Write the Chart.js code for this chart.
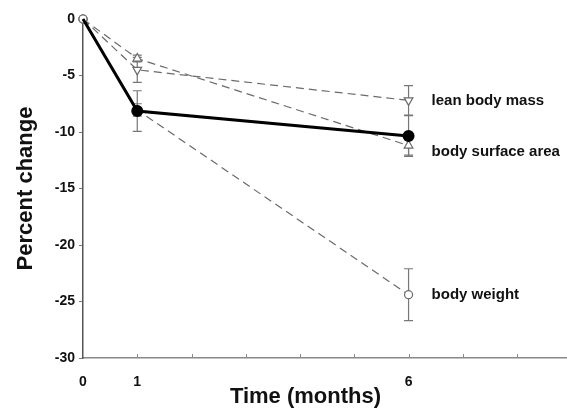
<!DOCTYPE html>
<html>
<head>
<meta charset="utf-8">
<script src="https://cdn.jsdelivr.net/npm/chart.js@4/dist/chart.umd.min.js"></script>
<style>
  html, body { margin: 0; padding: 0; background: #fff; overflow: hidden; }
  #wrap { width: 567px; height: 410px; }
</style>
</head>
<body>
<div id="wrap"><canvas id="chart" width="567" height="410"></canvas></div>
<script>
// months of follow-up
const months = [0, 1, 6];
const xTickLabels = [0, 1, 6];

// mean percent change and error (+/-) per series
const bodyWeight = [0, -8.05, -24.4];
const bodyWeightErr = [0, 0.55, 2.3];
const leanBodyMass = [0, -4.5, -7.2];
const leanBodyMassErr = [0, 1.1, 1.3];
const bodySurfaceArea = [0, -3.5, -11.2];
const bodySurfaceAreaErr = [0, 0.3, 0.85];
const combined = [0, -8.15, -10.35];
const combinedErr = [0, 1.8, 1.8];

const seriesLabels = ["lean body mass", "body surface area", "body weight"];
const xTitle = "Time (months)";

const font = "'Liberation Sans', Arial, sans-serif";
const gray = "#6a6a6a";

const toPoints = (vals) => months.map((m, i) => ({ x: m, y: vals[i] }));

const dashed = {
  borderColor: gray,
  borderWidth: 1.2,
  borderDash: [8, 5],
  pointBorderColor: gray,
  pointBackgroundColor: "#fff",
  pointBorderWidth: 1.2,
  pointRadius: 4,
  tension: 0,
  clip: false,
};

// error bars, drawn under the points
const errorBars = {
  id: "errorBars",
  beforeDatasetsDraw(chart) {
    const { ctx, scales } = chart;
    ctx.save();
    ctx.strokeStyle = "#777";
    ctx.lineWidth = 1.2;
    chart.data.datasets.forEach((ds) => {
      if (!ds.err) return;
      ds.data.forEach((p, i) => {
        const e = ds.err[i];
        if (!e) return;
        const x = scales.x.getPixelForValue(p.x);
        const y1 = scales.y.getPixelForValue(p.y + e);
        const y2 = scales.y.getPixelForValue(p.y - e);
        ctx.beginPath();
        ctx.moveTo(x, y1); ctx.lineTo(x, y2);
        ctx.moveTo(x - 4.5, y1); ctx.lineTo(x + 4.5, y1);
        ctx.moveTo(x - 4.5, y2); ctx.lineTo(x + 4.5, y2);
        ctx.stroke();
      });
    });
    ctx.restore();
  },
};

// labels at the end of the lines, x title, inward x ticks
const endLabels = {
  id: "endLabels",
  afterDatasetsDraw(chart) {
    const { ctx, scales } = chart;
    ctx.save();
    ctx.font = "bold 15px " + font;
    ctx.fillStyle = "#111";
    ctx.textBaseline = "middle";
    const last = months.length - 1;
    const ends = [leanBodyMass[last], bodySurfaceArea[last], bodyWeight[last]];
    const nudge = [0, 6, 0];
    const x = scales.x.getPixelForValue(months[last]) + 23;
    seriesLabels.forEach((t, i) => {
      ctx.fillText(t, x, scales.y.getPixelForValue(ends[i]) + nudge[i]);
    });

    ctx.font = "bold 22px " + font;
    ctx.textAlign = "center";
    ctx.fillText(xTitle, scales.x.getPixelForValue(4.1), 397);

    // small tick marks pointing up from the x axis
    ctx.strokeStyle = "#888";
    ctx.lineWidth = 1;
    const yb = scales.y.bottom;
    for (let m = 1; m <= scales.x.max; m++) {
      const px = Math.round(scales.x.getPixelForValue(m)) + 0.5;
      ctx.beginPath();
      ctx.moveTo(px, yb);
      ctx.lineTo(px, yb - 4);
      ctx.stroke();
    }
    ctx.restore();
  },
};

new Chart(document.getElementById("chart"), {
  type: "line",
  data: {
    datasets: [
      {
        label: "combined",
        data: toPoints(combined),
        err: combinedErr,
        borderColor: "#000",
        borderWidth: 3,
        pointBackgroundColor: "#000",
        pointBorderColor: "#000",
        pointRadius: [0, 4.5, 4.5],
        tension: 0,
        clip: false,
      },
      {
        ...dashed,
        label: seriesLabels[0],
        data: toPoints(leanBodyMass),
        err: leanBodyMassErr,
        pointStyle: ["circle", "triangle", "triangle"],
        pointRotation: 180,
        pointRadius: [4, 5, 5],
      },
      {
        ...dashed,
        label: seriesLabels[1],
        data: toPoints(bodySurfaceArea),
        err: bodySurfaceAreaErr,
        pointStyle: ["circle", "triangle", "triangle"],
        pointRadius: [4, 5, 5],
      },
      {
        ...dashed,
        label: seriesLabels[2],
        data: toPoints(bodyWeight),
        err: bodyWeightErr,
      },
    ],
  },
  options: {
    responsive: false,
    animation: false,
    layout: { autoPadding: false, padding: { left: 13, top: 19, right: 0, bottom: 0 } },
    plugins: { legend: { display: false }, tooltip: { enabled: false } },
    scales: {
      x: {
        type: "linear",
        min: 0,
        max: 8.92,
        afterFit(scale) { scale.height = 52; },
        afterBuildTicks(scale) {
          scale.ticks = xTickLabels.map((v) => ({ value: v }));
        },
        ticks: {
          padding: 16,
          color: "#111",
          font: { family: font, size: 14, weight: "bold" },
          maxRotation: 0,
        },
        grid: { display: false, drawTicks: false },
        border: { color: "#888", width: 1.5 },
      },
      y: {
        min: -30,
        max: 0,
        afterFit(scale) { scale.width = 70; },
        ticks: {
          stepSize: 5,
          padding: 4,
          color: "#111",
          font: { family: font, size: 14, weight: "bold" },
        },
        grid: { drawOnChartArea: false, tickLength: 4, color: "#777" },
        border: { color: "#555", width: 1.5 },
        title: {
          display: true,
          text: "Percent change",
          color: "#111",
          font: { family: font, size: 22, weight: "bold" },
          padding: { top: 0, bottom: 0 },
        },
      },
    },
  },
  plugins: [errorBars, endLabels],
});
</script>
</body>
</html>
